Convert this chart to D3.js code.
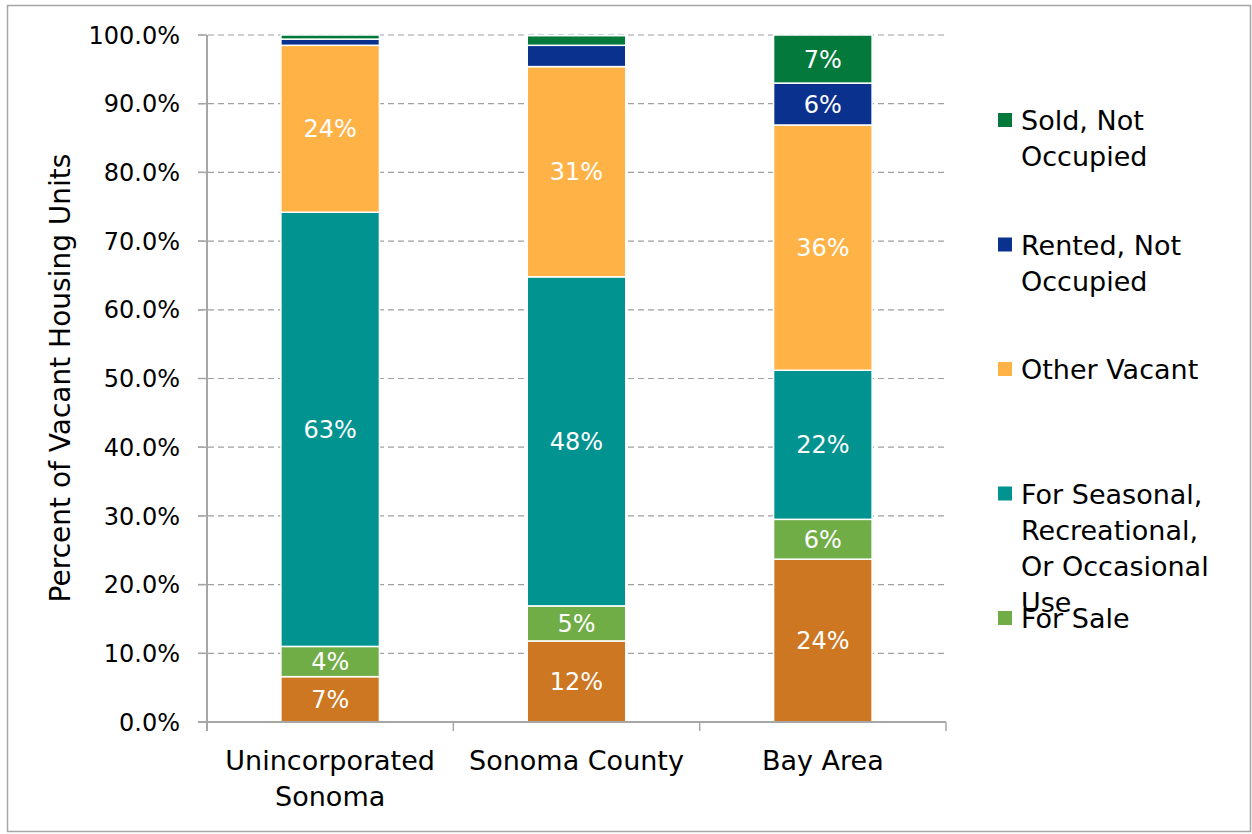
<!DOCTYPE html>
<html>
<head>
<meta charset="utf-8">
<script src="https://cdn.jsdelivr.net/npm/d3@7"></script>
<style>
  body { margin: 0; background: #fff; }
  text { font-family: "DejaVu Sans", sans-serif; }
</style>
</head>
<body>
<script>
// categories along the x axis (line breaks as in the original)
var categories = ["Unincorporated Sonoma", "Sonoma County", "Bay Area"];
var categoryLines = [["Unincorporated", "Sonoma"], ["Sonoma County"], ["Bay Area"]];

// series, bottom to top
var seriesNames = ["For Rent", "For Sale", "For Seasonal, Recreational, Or Occasional Use",
  "Other Vacant", "Rented, Not Occupied", "Sold, Not Occupied"];
var seriesColors = ["#CD7722", "#70AD47", "#009390", "#FFB347", "#0B318F", "#03793C"];

// percent values per series, one per category
var forRent     = [6.6, 11.8, 23.7];
var forSale     = [4.4, 5.1, 5.8];
var seasonal    = [63.2, 47.9, 21.7];
var otherVacant = [24.3, 30.6, 35.7];
var rentedNotOcc = [0.9, 3.1, 6.1];
var soldNotOcc  = [0.6, 1.4, 7.0];

var yTicks = [0, 10, 20, 30, 40, 50, 60, 70, 80, 90, 100];

var allSeries = [forRent, forSale, seasonal, otherVacant, rentedNotOcc, soldNotOcc];

var width = 1252, height = 834;
var svg = d3.select("body").append("svg")
  .attr("width", width)
  .attr("height", height);

// outer frame
svg.append("rect")
  .attr("x", 7.5).attr("y", 5.5)
  .attr("width", 1243).attr("height", 826)
  .attr("fill", "none")
  .attr("stroke", "#a6a6a6")
  .attr("stroke-width", 1.5);

var x = d3.scaleBand().domain(categories).range([207, 946]).padding(0);
var y = d3.scaleLinear().domain([0, 100]).range([722, 35]);

// gridlines
svg.selectAll(".grid")
  .data(yTicks.slice(1))
  .enter()
  .append("line")
  .attr("x1", 198).attr("x2", 946)
  .attr("y1", function(d) { return y(d); })
  .attr("y2", function(d) { return y(d); })
  .attr("stroke", "#a0a0a0")
  .attr("stroke-width", 1.2)
  .attr("stroke-dasharray", "6,4");

// stacked data
var table = categories.map(function(c, i) {
  var row = { cat: c };
  seriesNames.forEach(function(s, j) { row[s] = allSeries[j][i]; });
  return row;
});
var stack = d3.stack().keys(seriesNames);
var layers = stack(table);

var barW = x.bandwidth() * 0.4;

var g = svg.selectAll(".layer")
  .data(layers)
  .enter()
  .append("g")
  .attr("fill", function(d, i) { return seriesColors[i]; });

g.selectAll("rect")
  .data(function(d) { return d; })
  .enter()
  .append("rect")
  .attr("x", function(d) { return x(d.data.cat) + (x.bandwidth() - barW) / 2; })
  .attr("y", function(d) { return y(d[1]); })
  .attr("width", barW)
  .attr("height", function(d) { return y(d[0]) - y(d[1]); })
  .attr("stroke", "#fff")
  .attr("stroke-width", 1.5);

// data labels
g.selectAll("text")
  .data(function(d) { return d.filter(function(p) { return p[1] - p[0] >= 3.5; }); })
  .enter()
  .append("text")
  .attr("x", function(d) { return x(d.data.cat) + x.bandwidth() / 2; })
  .attr("y", function(d) { return y((d[0] + d[1]) / 2); })
  .attr("dy", "0.36em")
  .attr("text-anchor", "middle")
  .attr("fill", "#fff")
  .style("font-size", "24px")
  .text(function(d) { return Math.round(d[1] - d[0]) + "%"; });

// y axis
svg.append("line")
  .attr("x1", 207).attr("x2", 207)
  .attr("y1", 35).attr("y2", 731)
  .attr("stroke", "#a6a6a6").attr("stroke-width", 2);

svg.selectAll(".ytick")
  .data(yTicks)
  .enter()
  .append("line")
  .attr("x1", 198).attr("x2", 207)
  .attr("y1", function(d) { return y(d); })
  .attr("y2", function(d) { return y(d); })
  .attr("stroke", "#a6a6a6").attr("stroke-width", 1.5);

svg.selectAll(".ylab")
  .data(yTicks)
  .enter()
  .append("text")
  .attr("x", 180)
  .attr("y", function(d) { return y(d); })
  .attr("dy", "0.36em")
  .attr("text-anchor", "end")
  .attr("fill", "#000")
  .style("font-size", "24px")
  .text(function(d) { return d.toFixed(1) + "%"; });

// x axis
svg.append("line")
  .attr("x1", 198).attr("x2", 946)
  .attr("y1", 722).attr("y2", 722)
  .attr("stroke", "#a6a6a6").attr("stroke-width", 2);

var bounds = categories.map(function(c) { return x(c); }).concat([x.range()[1]]);
svg.selectAll(".xtick")
  .data(bounds)
  .enter()
  .append("line")
  .attr("x1", function(d) { return d; })
  .attr("x2", function(d) { return d; })
  .attr("y1", 722).attr("y2", 731)
  .attr("stroke", "#a6a6a6").attr("stroke-width", 1.5);

svg.selectAll(".xlab")
  .data(categories)
  .enter()
  .append("text")
  .attr("text-anchor", "middle")
  .attr("fill", "#000")
  .style("font-size", "27px")
  .each(function(c, i) {
    var t = d3.select(this);
    categoryLines[i].forEach(function(line, k) {
      t.append("tspan")
        .attr("x", x(c) + x.bandwidth() / 2)
        .attr("y", 770 + k * 36)
        .text(line);
    });
  });

// y axis title
svg.append("text")
  .attr("transform", "translate(70,378) rotate(-90)")
  .attr("text-anchor", "middle")
  .attr("fill", "#000")
  .style("font-size", "28px")
  .text("Percent of Vacant Housing Units");

// legend (top series first; the last entry does not fit, as in the original)
var legendLines = [["Sold, Not", "Occupied"], ["Rented, Not", "Occupied"], ["Other Vacant"],
  ["For Seasonal,", "Recreational,", "Or Occasional", "Use"], ["For Sale"]];
var legendColors = seriesColors.slice().reverse().slice(0, 5);

var lg = svg.selectAll(".legend")
  .data(legendLines)
  .enter()
  .append("g")
  .attr("transform", function(d, i) { return "translate(998," + (130 + i * 124.5) + ")"; });

lg.append("rect")
  .attr("x", 0).attr("y", -17)
  .attr("width", 14).attr("height", 14)
  .attr("fill", function(d, i) { return legendColors[i]; });

lg.append("text")
  .attr("fill", "#000")
  .style("font-size", "27px")
  .each(function(lines) {
    var t = d3.select(this);
    lines.forEach(function(line, k) {
      t.append("tspan").attr("x", 23).attr("y", k * 36).text(line);
    });
  });
</script>
</body>
</html>
